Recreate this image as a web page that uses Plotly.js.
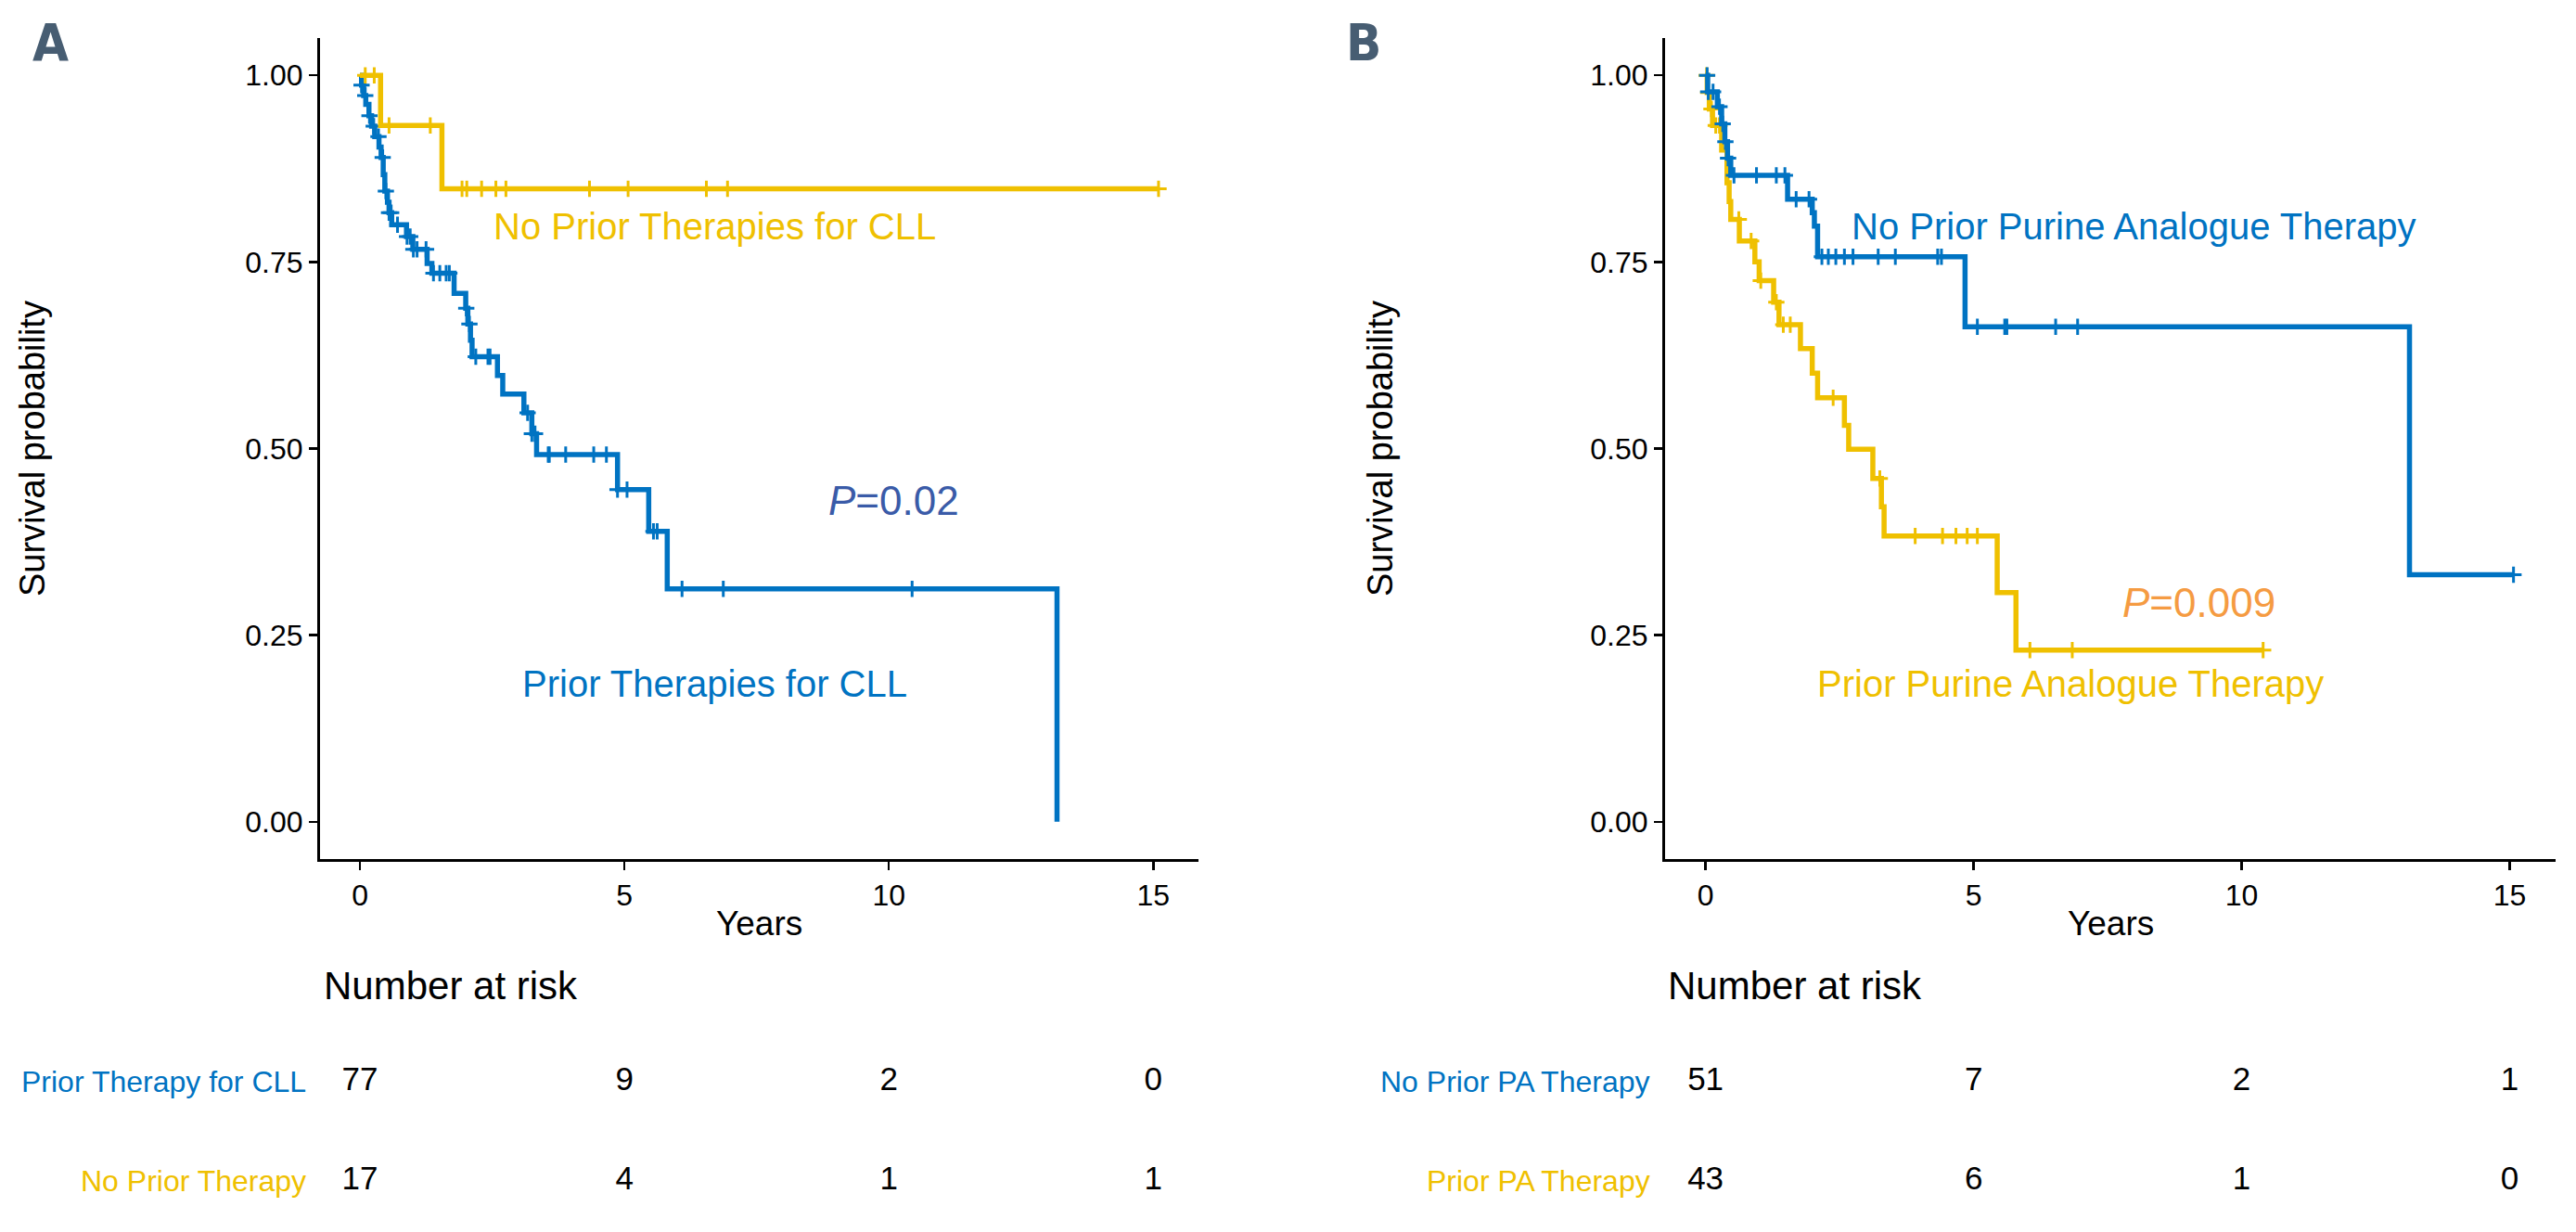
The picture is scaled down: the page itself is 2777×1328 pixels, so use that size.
<!DOCTYPE html>
<html><head><meta charset="utf-8">
<script src="https://cdn.plot.ly/plotly-3.0.1.min.js"></script>
<style>html,body{margin:0;padding:0;background:#fff}#chart{width:2777px;height:1328px}</style>
</head><body><div id="chart"></div>
<script>
// ---------- Panel A: prior therapies for CLL ----------
const aPriorTimes = [0.03,0.07,0.11,0.17,0.22,0.28,0.36,0.40,0.44,0.47,0.52,0.55,0.60,0.88,1.00,1.27,1.36,1.78,2.00,2.04,2.09,2.12,2.60,2.70,3.10,3.25,3.34,4.87,5.46,5.81,13.18];
const aPriorSurv  = [0.987,0.973,0.961,0.946,0.932,0.918,0.904,0.890,0.867,0.845,0.830,0.816,0.800,0.784,0.767,0.748,0.735,0.708,0.688,0.667,0.645,0.623,0.598,0.573,0.548,0.520,0.492,0.445,0.389,0.312,0.0];
const aPriorCensor = [0.03,0.10,0.18,0.26,0.35,0.43,0.49,0.55,0.59,0.71,0.89,0.95,1.01,1.08,1.25,1.39,1.51,1.63,1.69,2.01,2.07,2.19,2.42,2.46,3.17,3.25,3.31,3.56,3.58,3.89,4.42,4.66,4.87,5.05,5.55,5.62,6.09,6.87,10.44];
const aNoPriorTimes = [0.39,1.55];
const aNoPriorSurv  = [0.933,0.848];
const aNoPriorCensor = [0.10,0.27,0.55,1.33,1.93,2.02,2.30,2.57,2.76,4.34,5.07,6.55,6.95,15.1];

// ---------- Panel B: prior purine analogue therapy ----------
const bNoPriorTimes = [0.04,0.22,0.30,0.36,0.41,0.47,1.53,1.99,2.03,2.09,4.84,13.13];
const bNoPriorSurv  = [0.978,0.958,0.935,0.911,0.889,0.866,0.834,0.816,0.798,0.757,0.663,0.331];
const bNoPriorCensor = [0.03,0.05,0.14,0.26,0.32,0.37,0.42,0.53,0.95,1.32,1.48,1.69,1.93,2.17,2.29,2.43,2.59,2.75,3.22,3.54,4.33,4.40,5.07,5.58,5.62,6.53,6.94,15.07];
const bPriorTimes = [0.03,0.07,0.13,0.30,0.40,0.44,0.47,0.63,0.92,1.00,1.27,1.37,1.77,1.99,2.09,2.59,2.67,3.12,3.28,3.33,5.44,5.79];
const bPriorSurv  = [0.977,0.955,0.933,0.900,0.856,0.831,0.807,0.778,0.750,0.725,0.696,0.666,0.634,0.601,0.568,0.531,0.499,0.460,0.422,0.383,0.307,0.230];
const bPriorCensor = [0.02,0.05,0.11,0.19,0.26,0.62,0.85,1.03,1.32,1.45,1.58,2.38,3.25,3.91,4.42,4.67,4.88,5.07,6.05,6.84,10.40];

// ---------- Number at risk ----------
const riskTimes = [0,5,10,15];
const aRiskPrior   = [77,9,2,0];
const aRiskNoPrior = [17,4,1,1];
const bRiskNoPrior = [51,7,2,1];
const bRiskPrior   = [43,6,1,0];

// ---------- Labels & ticks ----------
const xTickVals = [0,5,10,15];
const yTickVals = [0,0.25,0.5,0.75,1];
const yTickText = ['0.00','0.25','0.50','0.75','1.00'];
const aRowLabels = ['Prior Therapy for CLL','No Prior Therapy'];
const bRowLabels = ['No Prior PA Therapy','Prior PA Therapy'];

const BLUE = '#0073C2', YELLOW = '#EFC000';
const W = 2777, H = 1328;
const px = v => v / W, py = v => 1 - v / H;
const FONT = 'Liberation Sans, Arial, sans-serif';
const LETTER_FONT = 'Liberation Sans Narrow, DejaVu Sans Condensed, sans-serif';

function stepLine(times, surv, censors) {
  const x = [0], y = [1];
  times.forEach((t, i) => { x.push(t); y.push(surv[i]); });
  const lastC = Math.max(...censors);
  if (lastC > times[times.length - 1]) { x.push(lastC); y.push(surv[surv.length - 1]); }
  return {x, y};
}
function survAt(times, surv, t) {
  let s = 1;
  for (let i = 0; i < times.length; i++) if (times[i] <= t) s = surv[i];
  return s;
}
function curve(times, surv, censors, color, xa, ya) {
  const s = stepLine(times, surv, censors);
  return [
    {type:'scatter', mode:'lines', x:s.x, y:s.y, xaxis:xa, yaxis:ya, hoverinfo:'skip',
     line:{shape:'hv', width:5.5, color:color}},
    {type:'scatter', mode:'markers', x:censors, y:censors.map(t => survAt(times, surv, t)),
     xaxis:xa, yaxis:ya, hoverinfo:'skip',
     marker:{symbol:'cross-thin', size:12.5, color:color, line:{width:3, color:color}}}
  ];
}
function riskRow(vals, yv, xa, ya) {
  return {type:'scatter', mode:'text', x:riskTimes, y:riskTimes.map(() => yv), text:vals.map(String),
    textposition:'middle center', textfont:{family:FONT, size:35, color:'#000'},
    xaxis:xa, yaxis:ya, hoverinfo:'skip'};
}

const traces = [].concat(
  curve(aPriorTimes, aPriorSurv, aPriorCensor, BLUE, 'x', 'y'),
  curve(aNoPriorTimes, aNoPriorSurv, aNoPriorCensor, YELLOW, 'x', 'y'),
  curve(bPriorTimes, bPriorSurv, bPriorCensor, YELLOW, 'x2', 'y2'),
  curve(bNoPriorTimes, bNoPriorSurv, bNoPriorCensor, BLUE, 'x2', 'y2'),
  [riskRow(aRiskPrior, 1, 'x3', 'y3'), riskRow(aRiskNoPrior, 0, 'x3', 'y3'),
   riskRow(bRiskNoPrior, 1, 'x4', 'y4'), riskRow(bRiskPrior, 0, 'x4', 'y4')]
);

const xRange = [-0.755, 15.855];
const aX = [345, 1292], bX = [1795, 2755];
const plotY = [py(926), py(41)];
const riskY = [py(1300), py(1140)];
const riskRange = [-0.252, 1.243];

function xAxis(dom) {
  return {domain:[px(dom[0]), px(dom[1])], range:xRange, showline:true, linecolor:'#000', linewidth:3,
    ticks:'outside', ticklen:9, tickwidth:2.5, tickcolor:'#000', tickvals:xTickVals,
    tickfont:{family:FONT, size:32, color:'#000'}, showgrid:false, zeroline:false, fixedrange:true};
}
function yAxis(anchor) {
  return {domain:plotY, range:[-0.05, 1.05], anchor:anchor, showline:true, linecolor:'#000', linewidth:3,
    ticks:'outside', ticklen:9, tickwidth:2.5, tickcolor:'#000', tickvals:yTickVals, ticktext:yTickText,
    tickfont:{family:FONT, size:32, color:'#000'}, showgrid:false, zeroline:false, fixedrange:true};
}
function hidden(dom, anchor, range) {
  return {domain:dom, anchor:anchor, range:range, visible:false, fixedrange:true};
}

function ann(text, x, y, size, color, opts) {
  return Object.assign({text:text, xref:'paper', yref:'paper', x:px(x), y:py(y), showarrow:false,
    xanchor:'center', yanchor:'middle', font:{family:FONT, size:size, color:color}}, opts || {});
}

const annotations = [
  ann('<b>A</b>', 55, 46, 54, '#475D72', {font:{family:LETTER_FONT, size:56, color:'#475D72'}}),
  ann('<b>B</b>', 1470, 46, 54, '#475D72', {font:{family:LETTER_FONT, size:56, color:'#475D72'}}),
  ann('Survival probability', 35, 484, 38, '#000', {textangle:-90}),
  ann('Survival probability', 1488, 484, 38, '#000', {textangle:-90}),
  ann('Years', (aX[0]+aX[1])/2, 995, 37, '#000'),
  ann('Years', (bX[0]+bX[1])/2, 995, 37, '#000'),
  ann('No Prior Therapies for CLL', 770, 244, 40, YELLOW),
  ann('Prior Therapies for CLL', 770, 737, 40, BLUE),
  ann('<i>P</i>=0.02', 963, 540, 44, '#3A5BA8'),
  ann('No Prior Purine Analogue Therapy', 2300, 244, 40, BLUE),
  ann('Prior Purine Analogue Therapy', 2232, 737, 40, YELLOW),
  ann('<i>P</i>=0.009', 2370, 649, 44, '#F59B42'),
  ann('Number at risk', 347, 1062, 42, '#000', {xanchor:'left'}),
  ann('Number at risk', 1796, 1062, 42, '#000', {xanchor:'left'}),
  ann(aRowLabels[0], 332, 1166, 32, BLUE, {xanchor:'right'}),
  ann(aRowLabels[1], 332, 1273, 32, YELLOW, {xanchor:'right'}),
  ann(bRowLabels[0], 1781, 1166, 32, BLUE, {xanchor:'right'}),
  ann(bRowLabels[1], 1781, 1273, 32, YELLOW, {xanchor:'right'})
];

const layout = {
  width:W, height:H, margin:{l:0, r:0, t:0, b:0}, paper_bgcolor:'#fff', plot_bgcolor:'#fff',
  showlegend:false, font:{family:FONT, color:'#000'},
  xaxis:Object.assign(xAxis(aX), {anchor:'y'}),
  yaxis:yAxis('x'),
  xaxis2:Object.assign(xAxis(bX), {anchor:'y2'}),
  yaxis2:yAxis('x2'),
  xaxis3:hidden([px(aX[0]), px(aX[1])], 'y3', xRange),
  yaxis3:hidden(riskY, 'x3', riskRange),
  xaxis4:hidden([px(bX[0]), px(bX[1])], 'y4', xRange),
  yaxis4:hidden(riskY, 'x4', riskRange),
  annotations:annotations
};

Plotly.newPlot('chart', traces, layout, {staticPlot:true, displayModeBar:false});
</script>
</body></html>
